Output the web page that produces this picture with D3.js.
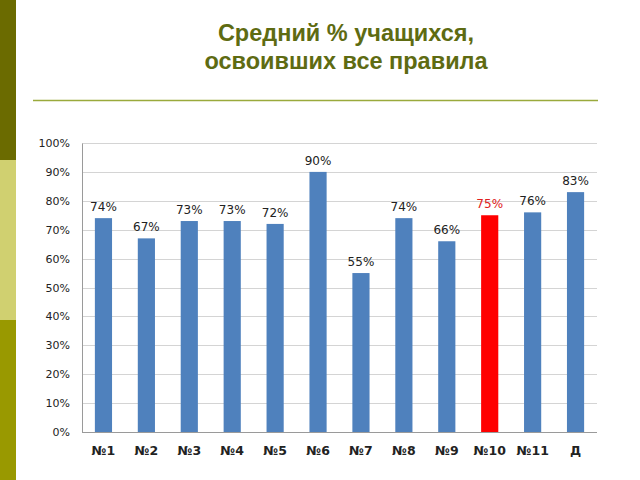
<!DOCTYPE html>
<html><head><meta charset="utf-8">
<script src="https://cdn.jsdelivr.net/npm/d3@7"></script>
<style>body{margin:0;background:#fff}svg{display:block}</style>
</head><body>
<svg id="c" width="640" height="480"></svg>
<script>
const categories = ["№1","№2","№3","№4","№5","№6","№7","№8","№9","№10","№11","Д"];
const values = [74,67,73,73,72,90,55,74,66,75,76,83];
const highlight = ["№10"];
const yTicks = [0,10,20,30,40,50,60,70,80,90,100];
const titleLines = ["Средний % учащихся,", "освоивших все правила"];

const svg = d3.select("#c");
// left decorative stripe
const stripe = [{y0:0,y1:160,c:"#6b6b00"},{y0:160,y1:320,c:"#d0d070"},{y0:320,y1:480,c:"#999900"}];
svg.selectAll("rect.stripe").data(stripe).join("rect").attr("class","stripe")
  .attr("x",0).attr("width",16).attr("y",d=>d.y0).attr("height",d=>d.y1-d.y0).attr("fill",d=>d.c);

svg.selectAll("text.title").data(titleLines).join("text").attr("class","title")
  .attr("x",346).attr("y",(d,i)=>41+i*28).attr("text-anchor","middle")
  .attr("font-family","Liberation Sans, Arial, sans-serif").attr("font-weight","bold")
  .attr("font-size",23.5).attr("fill","#5e6b12").text(d=>d);
svg.append("line").attr("x1",33).attr("x2",598).attr("y1",100.5).attr("y2",100.5)
  .attr("stroke","#9aaa3c").attr("stroke-width",1.5);

const x = d3.scaleBand().domain(categories).range([82,597]).paddingInner(0.6).paddingOuter(0.3);
const y = d3.scaleLinear().domain([0,100]).range([432,143]);
const font = "DejaVu Sans, Verdana, sans-serif";

// gridlines
svg.append("g").selectAll("line").data(yTicks.filter(t=>t>0)).join("line")
  .attr("x1",82).attr("x2",597).attr("y1",d=>Math.round(y(d))+0.5).attr("y2",d=>Math.round(y(d))+0.5)
  .attr("stroke","#d4d4d4").attr("stroke-width",1);

// y axis
const ya = svg.append("g").attr("transform","translate(82,0)")
  .call(d3.axisLeft(y).tickValues(yTicks).tickFormat(d=>d+"%").tickSize(0).tickPadding(12));
ya.select(".domain").attr("stroke","#9a9a9a");
ya.selectAll("text").attr("font-family",font).attr("font-size",11).attr("fill","#222");

// bars
svg.append("g").selectAll("rect").data(categories).join("rect")
  .attr("x",d=>x(d)).attr("width",x.bandwidth())
  .attr("y",(d,i)=>y(values[i])).attr("height",(d,i)=>y(0)-y(values[i]))
  .attr("fill",d=>highlight.includes(d)?"#ff0000":"#4f81bd");

// x axis
const xa = svg.append("g").attr("transform","translate(0,432)")
  .call(d3.axisBottom(x).tickSize(0).tickPadding(14));
xa.select(".domain").attr("stroke","#9a9a9a").attr("d","M82,0.5H597");
xa.selectAll("text").attr("font-family",font).attr("font-weight",600).attr("font-size",12.5).attr("fill","#222");

// labels
svg.append("g").selectAll("text").data(categories).join("text")
  .attr("x",d=>x(d)+x.bandwidth()/2).attr("y",(d,i)=>y(values[i])-7)
  .attr("text-anchor","middle").attr("font-family",font).attr("font-size",12)
  .attr("fill",d=>highlight.includes(d)?"#e02020":"#222")
  .text((d,i)=>values[i]+"%");
</script>
</body></html>
